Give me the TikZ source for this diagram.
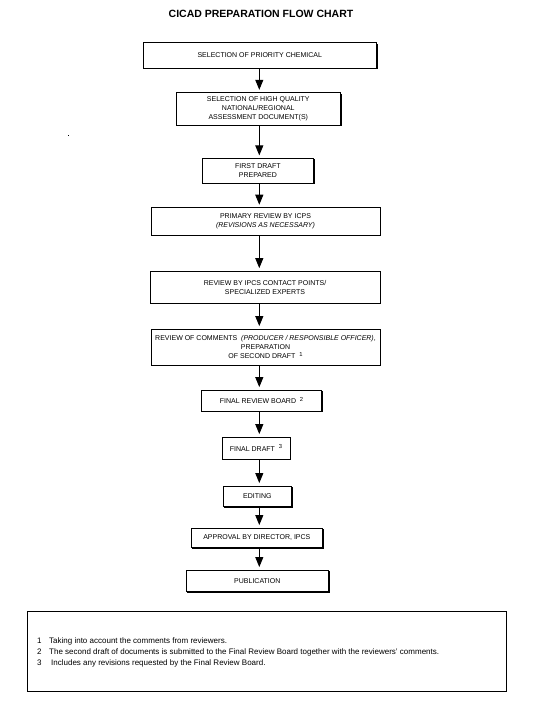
\documentclass[tikz,border=0pt]{standalone}
\usepackage{fontspec}
\setmainfont{Liberation Sans}
\usetikzlibrary{arrows.meta,shadows}
\newcommand{\supnum}[1]{\raisebox{2.2pt}{\fontsize{5.8}{6}\selectfont #1}}
\begin{document}
\begin{tikzpicture}[x=1pt,y=-1pt,
  box/.style={draw, fill=white, line width=0.8pt, inner sep=0pt, align=center,
    font=\fontsize{7}{9}\selectfont,
    drop shadow={shadow xshift=1pt, shadow yshift=-1pt, fill=black, opacity=1}},
  arr/.style={line width=0.9pt, -{Triangle[width=8pt,length=10pt]}, shorten >=2.5pt},
  fn/.style={anchor=base west, inner sep=0pt, font=\fontsize{8}{9}\selectfont}]
\useasboundingbox (0,0) rectangle (533,711);
\node[font=\bfseries\fontsize{10.5}{12}\selectfont] (title) at (261,14) {CICAD PREPARATION FLOW CHART};
\coordinate (axis) at (259.3,0);
\node[box, minimum width=233.5pt, minimum height=25.6pt] (b1) at (259.8,55.5) {SELECTION OF PRIORITY CHEMICAL};
\node[box, minimum width=164.7pt, minimum height=32.6pt] (b2) at (258.3,109) {SELECTION OF HIGH QUALITY\\NATIONAL/REGIONAL\\ASSESSMENT DOCUMENT(S)};
\node[box, minimum width=111.7pt, minimum height=25pt] (b3) at (257.9,170.8) {FIRST DRAFT\\PREPARED};
\node[box, minimum width=229pt, minimum height=27.3pt] (b4) at (265.5,221.3) {PRIMARY REVIEW BY ICPS\\\textit{(REVISIONS AS NECESSARY)}};
\node[box, minimum width=230pt, minimum height=32.3pt] (b5) at (265,287.2) {REVIEW BY IPCS CONTACT POINTS/\\SPECIALIZED EXPERTS};
\node[box, minimum width=229pt, minimum height=36pt] (b6) at (265.5,347) {REVIEW OF COMMENTS\ \ \textit{(PRODUCER / RESPONSIBLE OFFICER)},\\PREPARATION\\OF SECOND DRAFT\ \ \supnum{1}};
\node[box, minimum width=120pt, minimum height=21pt] (b7) at (261.5,400.5) {FINAL REVIEW BOARD\ \ \supnum{2}};
\node[box, minimum width=68pt, minimum height=22pt] (b8) at (256,448) {FINAL DRAFT\ \ \supnum{3}};
\node[box, minimum width=68.7pt, minimum height=20.7pt] (b9) at (257.3,496.3) {EDITING};
\node[box, minimum width=131.7pt, minimum height=19.7pt] (b10) at (256.8,537.8) {APPROVAL BY DIRECTOR, IPCS};
\node[box, minimum width=142.7pt, minimum height=21.7pt] (b11) at (257.3,580.8) {PUBLICATION};
\foreach \a/\b in {b1/b2,b2/b3,b3/b4,b4/b5,b5/b6,b6/b7,b7/b8,b8/b9,b9/b10,b10/b11}
  \draw[arr] (\a.south -| axis) -- (\b.north -| axis);
\node[draw, line width=0.8pt, minimum width=478.7pt, minimum height=80pt, inner sep=0pt] (notes) at (266.7,651) {};
\node[fn] (fn1) at (37,643.8) {\makebox[12pt][l]{1}Taking into account the comments from reviewers.};
\node[fn] (fn2) at (37,654) {\makebox[12pt][l]{2}The second draft of documents is submitted to the Final Review Board together with the reviewers' comments.};
\node[fn] (fn3) at (37,665) {\makebox[14pt][l]{3}Includes any revisions requested by the Final Review Board.};
\fill (68,135.5) rectangle (69,136.5);
\end{tikzpicture}
\end{document}
